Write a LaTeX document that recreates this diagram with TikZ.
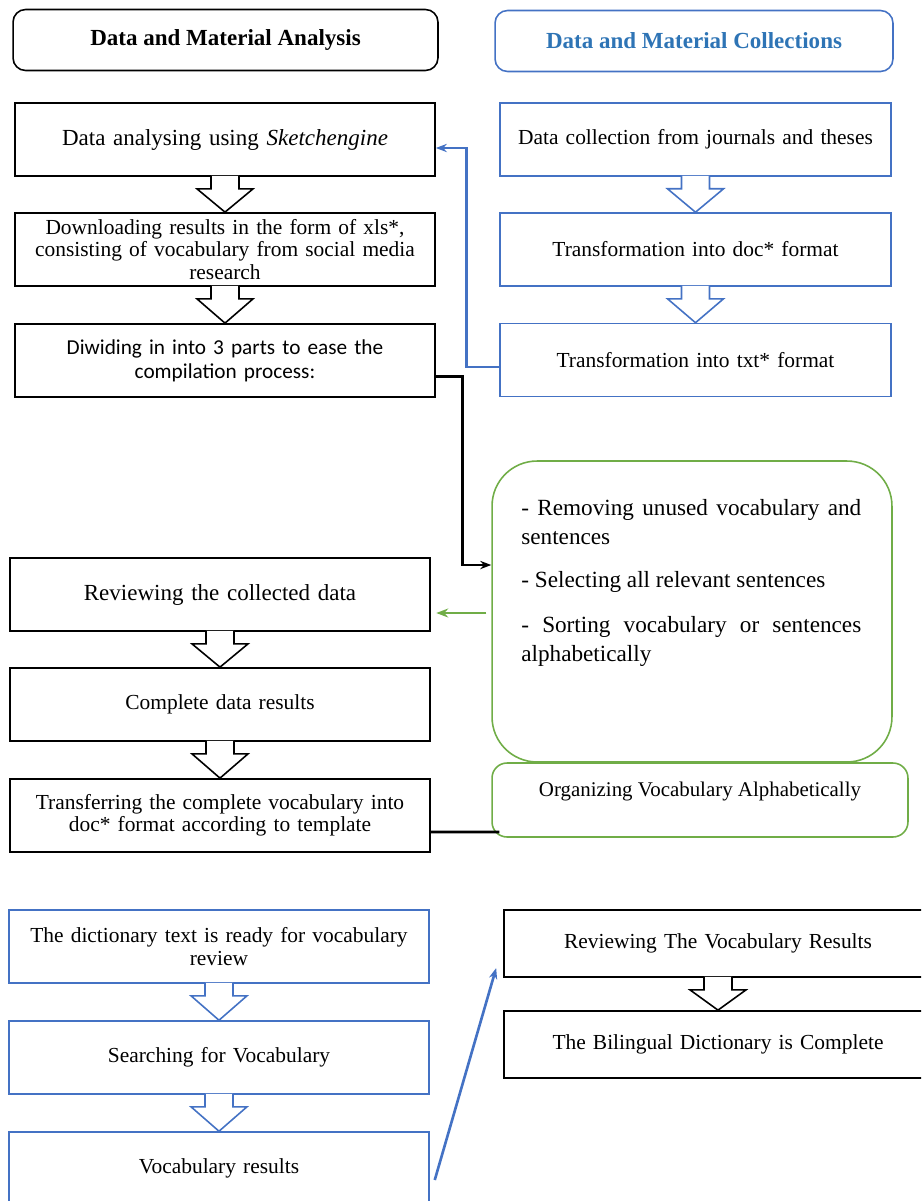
\documentclass[tikz,border=0pt]{standalone}
\usepackage{fontspec}
\setmainfont{Liberation Serif}
\newfontfamily\calibrifont{Carlito}
\usetikzlibrary{calc,arrows.meta}

\definecolor{wordblue}{HTML}{4472C4}
\definecolor{headblue}{HTML}{2E74B5}
\definecolor{wordgreen}{HTML}{70AD47}

% block arrow from the bottom of one box to the top of the next
\newcommand{\hollowarrow}[3][black]{%
  \filldraw[#1, fill=white, line width=0.9pt, line join=miter]
    ($(#2.south)+(-14,-1)$) -- ++(0,13) -- ++(-14,0) -- (#3.north)
    -- ($(#2.south)+(28,12)$) -- ++(-14,0) -- ($(#2.south)+(14,-1)$);}

\begin{document}
\begin{tikzpicture}[x=0.02cm, y=-0.02cm,
  box/.style={draw, line width=1pt, minimum width=8.4cm, minimum height=1.46cm,
    inner sep=2pt, text width=7.6cm, align=center,
    font=\fontsize{12.2}{12.6}\selectfont},
  bluebox/.style={box, draw=wordblue, line width=0.9pt},
  bigtext/.style={font=\fontsize{13.1}{14}\selectfont},
  header/.style={draw, rounded corners=0.25cm, line width=0.9pt, minimum height=1.22cm,
    align=center, font=\fontsize{13.1}{14}\selectfont\bfseries},
  greenbox/.style={draw=wordgreen, line width=0.9pt, rounded corners=0.9cm},
  gtext/.style={inner sep=0pt, text width=6.8cm, align=justify,
    font=\fontsize{13.2}{16.5}\selectfont},
  arrowk/.style={-{Stealth[length=2.2mm]}, line width=1.6pt},
  arrowb/.style={-{Stealth[length=2.2mm]}, line width=1.5pt, wordblue},
  arrowg/.style={-{Stealth[length=2.4mm]}, line width=1.5pt, wordgreen},
  linek/.style={line width=1.6pt},
]
\path[use as bounding box, clip] (0,0) rectangle (921,1201);

% === HEADERS ===
\node[header, minimum width=8.5cm] (hdrL) at (225.5,40) {Data and Material Analysis};
\node[header, draw=wordblue, text=headblue, minimum width=7.96cm] (hdrR) at (694,41) {Data and Material Collections};

% === ANALYSIS (left) ===
\node[box, bigtext] (a1) at (225,139.5) {Data analysing using \textit{Sketchengine}};
\node[box] (a2) at (225,249.5) {Downloading results in the form of xls*,\\consisting of vocabulary from social media\\research};
\node[box, font=\calibrifont\fontsize{12.1}{13.8}\selectfont] (a3) at (225,360.5) {Diwiding in into 3 parts to ease the\\compilation process:};

% === COLLECTIONS (right) ===
\node[bluebox, minimum width=7.82cm] (b1) at (695.5,139.5) {Data collection from journals and theses};
\node[bluebox, minimum width=7.82cm] (b2) at (695.5,249.5) {Transformation into doc* format};
\node[bluebox, minimum width=7.82cm] (b3) at (695.5,360) {Transformation into txt* format};

% === COMPILATION ===
\node[greenbox, minimum width=8cm, minimum height=6.02cm] (g1) at (692,611.5) {};
\node[gtext, anchor=north west] (g1txt) at (521,499)
  {\tolerance=9999 - Removing unused vocabulary and sentences\\[0.28cm]- Selecting all relevant sentences\\[0.32cm]\tolerance=9999 - Sorting vocabulary or sentences \mbox{alphabetically}};

\node[box, bigtext] (a4) at (220,594.5) {Reviewing the collected data};
\node[box] (a5) at (220,704.5) {Complete data results};
\node[box] (a6) at (220,815.5) {Transferring the complete vocabulary into\\doc* format according to template};
\node[greenbox, rounded corners=0.3cm, minimum width=8.32cm, minimum height=1.48cm,
  text depth=0.45cm, font=\fontsize{11.9}{13}\selectfont] (g2) at (700,800) {Organizing Vocabulary Alphabetically};

% === REVIEW ===
\node[bluebox] (c1) at (219,946.5) {The dictionary text is ready for vocabulary\\review};
\node[bluebox] (c2) at (219,1057.5) {Searching for Vocabulary};
\node[bluebox] (c3) at (219,1168.5) {Vocabulary results};
\node[box, minimum width=8.56cm, minimum height=1.34cm] (r1) at (718,943.5) {Reviewing The Vocabulary Results};
\node[box, minimum width=8.56cm, minimum height=1.34cm] (r2) at (718,1044.5) {The Bilingual Dictionary is Complete};

\hollowarrow{a1}{a2}
\hollowarrow{a2}{a3}
\hollowarrow{a4}{a5}
\hollowarrow{a5}{a6}
\hollowarrow[wordblue]{b1}{b2}
\hollowarrow[wordblue]{b2}{b3}
\hollowarrow[wordblue]{c1}{c2}
\hollowarrow[wordblue]{c2}{c3}
\hollowarrow{r1}{r2}

% connectors
\draw[arrowb] ([yshift=-0.14cm]b3.west) -- ++(-33,0) |- ([yshift=-0.17cm]a1.east);
\draw[arrowk] ([yshift=-0.32cm]a3.east) -- ++(27,0) |- ([yshift=0.93cm]g1.west);
\draw[arrowg] ([xshift=-0.1cm,yshift=-0.03cm]g1.west) -- ++(-50,0);
\draw[linek] ([yshift=-0.33cm]a6.east) -- ([xshift=0.16cm,yshift=-0.64cm]g2.west);
\draw[arrowb] ([xshift=0.1cm,yshift=-0.23cm]c3.east) -- ([xshift=-0.14cm,yshift=-0.49cm]r1.west);
\end{tikzpicture}
\end{document}
